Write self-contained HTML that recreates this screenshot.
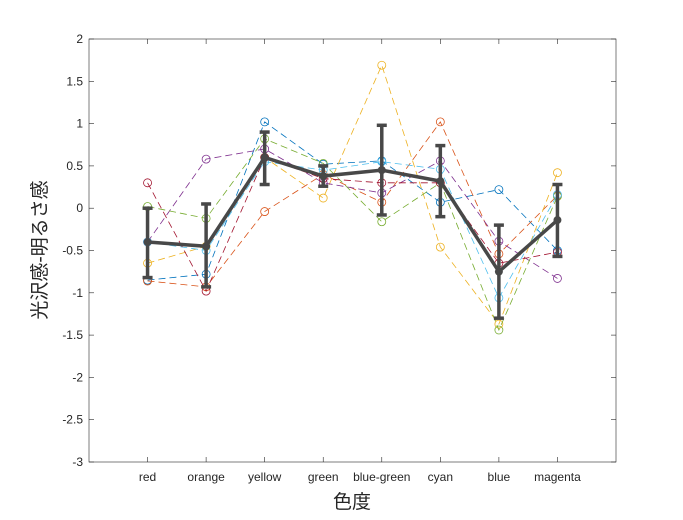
<!DOCTYPE html>
<html><head><meta charset="utf-8"><style>
body{margin:0;background:#fff;}
svg{display:block;font-family:"Liberation Sans","Noto Sans CJK JP",sans-serif;}
</style></head><body>
<svg id="c" width="683" height="520"></svg>
<script>
const categories=["red","orange","yellow","green","blue-green","cyan","blue","magenta"];
const sBlue=[-0.85,-0.78,1.02,0.52,0.56,0.07,0.22,-0.5];
const sOrange=[-0.86,-0.93,-0.04,0.4,0.07,1.02,-0.54,0.15];
const sYellow=[-0.65,-0.45,0.6,0.12,1.69,-0.46,-1.37,0.42];
const sPurple=[-0.4,0.58,0.7,0.3,0.18,0.56,-0.39,-0.83];
const sGreen=[0.02,-0.12,0.82,0.53,-0.16,0.3,-1.44,0.14];
const sLightBlue=[-0.4,-0.5,0.55,0.45,0.55,0.46,-1.06,0.16];
const sDarkRed=[0.3,-0.98,0.6,0.35,0.3,0.3,-0.65,-0.52];
const meanVals=[-0.4,-0.45,0.6,0.38,0.45,0.32,-0.75,-0.14];
const errUpper=[0.0,0.05,0.9,0.5,0.98,0.74,-0.2,0.28];
const errLower=[-0.82,-0.93,0.28,0.26,-0.08,-0.1,-1.3,-0.57];
const yTicks=[2,1.5,1,0.5,0,-0.5,-1,-1.5,-2,-2.5,-3];
const series=[[sBlue,"#0072BD"],[sOrange,"#D95319"],[sYellow,"#EDB120"],[sPurple,"#7E2F8E"],[sGreen,"#77AC30"],[sLightBlue,"#4DBEEE"],[sDarkRed,"#A2142F"]];
const L=89,R=616,T=39,B=462;
const X=i=>L+(i+1)*(R-L)/9;
const Y=v=>T+(2-v)*(B-T)/5;
const svg=document.getElementById('c');
const NS="http://www.w3.org/2000/svg";
function mk(t,a,p){const e=document.createElementNS(NS,t);for(const k in a)e.setAttribute(k,a[k]);(p||svg).appendChild(e);return e;}
const ax=mk('rect',{x:L,y:T,width:R-L,height:B-T,fill:'#fff',stroke:'#262626','stroke-width':0.6});


yTicks.forEach(v=>{
  mk('line',{x1:L,x2:L+5,y1:Y(v),y2:Y(v),stroke:'#262626','stroke-width':0.6});
  mk('line',{x1:R,x2:R-5,y1:Y(v),y2:Y(v),stroke:'#262626','stroke-width':0.6});
  const t=mk('text',{x:L-6,y:Y(v)+4,'text-anchor':'end','font-size':12,fill:'#262626'});t.textContent=String(v);
  
  
});
categories.forEach((c,i)=>{
  mk('line',{x1:X(i),x2:X(i),y1:B,y2:B-5,stroke:'#262626','stroke-width':0.6});
  mk('line',{x1:X(i),x2:X(i),y1:T,y2:T+5,stroke:'#262626','stroke-width':0.6});
  const t=mk('text',{x:X(i),y:481,'text-anchor':'middle','font-size':12,fill:'#262626'});t.textContent=c;
  
  
});
series.forEach(([d,col],si)=>{
  const g=mk('g',{});
  
  
  mk('polyline',{points:d.map((v,i)=>X(i)+','+Y(v)).join(' '),fill:'none',stroke:col,'stroke-width':0.8,'stroke-dasharray':'7,4'},g);
  d.forEach((v,i)=>mk('circle',{cx:X(i),cy:Y(v),r:4,fill:'none',stroke:col,'stroke-width':0.8},g));
});
const mg=mk('g',{});


meanVals.forEach((v,i)=>{
  mk('line',{x1:X(i),x2:X(i),y1:Y(errUpper[i]),y2:Y(errLower[i]),stroke:'#484848','stroke-width':3.5},mg);
  [errUpper[i],errLower[i]].forEach(e=>mk('line',{x1:X(i)-5,x2:X(i)+5,y1:Y(e),y2:Y(e),stroke:'#484848','stroke-width':3.5},mg));
});
mk('polyline',{points:meanVals.map((v,i)=>X(i)+','+Y(v)).join(' '),fill:'none',stroke:'#484848','stroke-width':3.5},mg);
meanVals.forEach((v,i)=>mk('circle',{cx:X(i),cy:Y(v),r:4,fill:'#484848'},mg));
const xl=mk('text',{x:352,y:508,'text-anchor':'middle','font-size':19,fill:'#262626'});xl.textContent='色度';


const yl=mk('text',{x:0,y:0,transform:'translate(46,250) rotate(-90)','text-anchor':'middle','font-size':19,fill:'#262626'});yl.textContent='光沢感-明るさ感';


</script>
</body></html>
